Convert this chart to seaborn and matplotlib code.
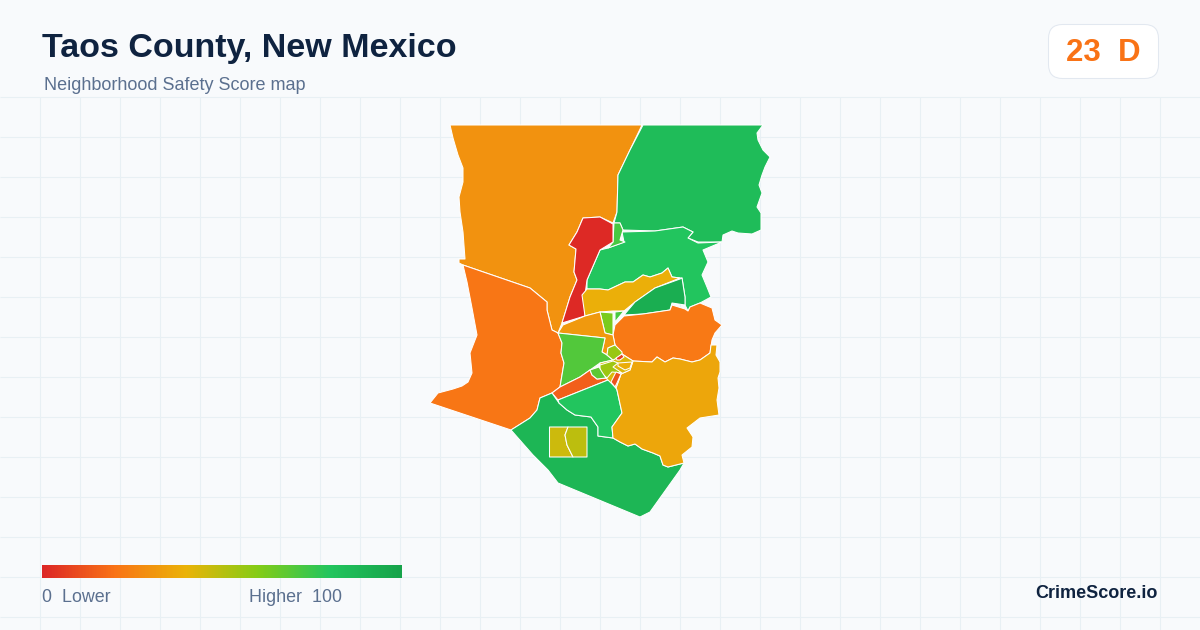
import numpy as np
import matplotlib
matplotlib.use("Agg")
import matplotlib.pyplot as plt
from matplotlib.patches import Polygon, FancyBboxPatch
import seaborn as sns

sns.set_theme(style="white")
plt.rcParams['font.family'] = ['Liberation Sans', 'DejaVu Sans']

TITLE = "Taos County, New Mexico"
SUBTITLE = "Neighborhood Safety Score map"
SCORE = "23  D"
BRAND = "CrimeScore.io"
GRADIENT = ["#dc2626", "#f97316", "#eab308", "#84cc16", "#22c55e", "#16a34a"]

# score of each tract
nw_score = 30
ne_score = 85
red_score = 1
link_score = 72
north_mid_score = 80
ridge_score = 39
dark_score = 93
lime_a_score = 62
lime_b_score = 72
east_score = 22
mid_orange_score = 32
west_score = 21
center_green_score = 70
strip_score = 15
south_mid_score = 80
south_score = 89
southeast_score = 36
town_l_score = 46
town_r_score = 49
spot_a_score = 7
spot_b_score = 12
spot_c_score = 55
spot_d_score = 68
spot_e_score = 38
spot_f_score = 56
center_base_score = 43

# tract outlines, traced in the map's projected plane
nw_shape = [(450,125),(642,125),(630,150),(618,175),(617,212),(613,223),(600,217),(583,218),(577,232),(569,245),(576,249),(574,272),(577,280),(570,297),(562,323),(558,333),(552,330),(547,310),(547,302),(530,288),(463,265),(459,263),(459,259),(465,259),(463,232),(460,212),(459,197),(463,182),(463,168),(458,155),(453,138)]
ne_shape = [(643,125),(763,125),(757,133),(758,140),(763,150),(770,157),(765,167),(762,175),(759,185),(762,193),(757,207),(761,213),(761,230),(752,234),(738,233),(732,231),(723,235),(722,242),(698,242),(688,238),(693,232),(683,227),(655,231),(623,230),(620,223),(614,223),(617,212),(618,175),(630,150)]
red_shape = [(583,218),(600,217),(613,224),(613,242),(600,250),(587,280),(585,295),(585,316),(562,323),(570,297),(577,280),(574,272),(576,249),(569,245),(577,232)]
link_shape = [(614,223),(620,223),(623,230),(620,240),(625,242),(608,248),(613,242)]
north_mid_shape = [(587,280),(600,250),(608,248),(624,242),(622,232),(655,231),(683,227),(693,232),(688,238),(698,243),(722,242),(703,250),(708,262),(702,275),(707,287),(711,297),(700,303),(690,307),(688,311),(685,305),(685,297),(682,278),(680,278),(672,277),(668,268),(662,273),(650,277),(643,275),(633,282),(625,282),(608,290),(600,289),(587,289)]
ridge_shape = [(587,289),(600,289),(608,290),(625,282),(633,282),(643,275),(650,277),(662,273),(668,268),(672,277),(680,278),(655,288),(635,302),(624,311),(613,311),(600,312),(585,316),(582,295)]
dark_shape = [(655,288),(680,279),(682,278),(685,297),(685,305),(672,303),(670,310),(643,314),(624,315),(635,302)]
lime_a_shape = [(600,312),(613,313),(613,323),(613,335),(605,333)]
lime_b_shape = [(615,312),(624,311),(615,322)]
east_shape = [(615,325),(624,316),(643,314),(670,310),(672,305),(685,309),(688,311),(690,307),(700,303),(712,308),(715,320),(722,325),(715,333),(712,340),(710,353),(700,360),(692,362),(680,359),(673,358),(665,362),(657,357),(652,362),(633,361),(622,354),(615,345),(613,335)]
mid_orange_shape = [(563,325),(585,316),(600,312),(605,333),(613,335),(615,345),(608,348),(607,355),(602,352),(605,338),(558,333)]
west_shape = [(463,265),(530,288),(547,302),(547,310),(552,330),(558,333),(562,343),(561,353),(564,363),(562,375),(560,387),(552,393),(540,398),(537,410),(530,418),(511,430),(430,403),(438,393),(453,389),(462,386),(468,382),(472,373),(470,353),(477,335),(472,308),(467,282)]
center_green_shape = [(558,333),(605,338),(602,352),(607,355),(613,360),(600,363),(590,370),(580,377),(560,387),(562,375),(564,363),(561,353),(562,343)]
strip_shape = [(552,393),(560,387),(580,377),(590,370),(592,375),(597,379),(606,378),(608,380),(558,400)]
south_mid_shape = [(558,400),(608,380),(612,382),(616,388),(617,390),(622,413),(612,427),(613,438),(598,436),(598,427),(591,417),(575,415),(567,410),(559,403)]
south_shape = [(511,430),(530,418),(537,410),(540,398),(552,393),(559,403),(567,410),(575,415),(591,417),(598,427),(598,436),(613,438),(620,442),(628,446),(635,444),(642,449),(653,453),(660,456),(663,465),(668,467),(684,463),(680,470),(650,512),(640,517),(558,483),(548,470),(533,455)]
southeast_shape = [(633,361),(652,362),(657,357),(665,362),(673,358),(680,359),(692,362),(700,360),(710,353),(711,345),(717,345),(716,355),(720,362),(720,372),(718,378),(719,388),(717,400),(719,415),(700,418),(687,428),(693,437),(692,447),(682,455),(684,463),(668,467),(663,465),(660,456),(653,453),(642,449),(635,444),(628,446),(620,442),(613,438),(612,427),(622,413),(617,390),(616,388),(621,374),(630,370)]
town_l_shape = [(549.5,427),(568,427),(565,435),(567,445),(573,457),(549.5,457)]
town_r_shape = [(568,427),(587,427),(587,457),(573,457),(567,445),(565,435)]
center_base_shape = [(600,363),(613,360),(622,354),(633,361),(630,370),(621,374),(616,388),(608,380),(600,372)]
spot_a_shape = [(616,358),(622,354),(624,357),(620,360),(617,360)]
spot_b_shape = [(611,382),(616,372),(621,374),(617,383),(615,387)]
spot_c_shape = [(600,365),(613,361),(618,363),(613,367),(622,373),(612,372),(607,378),(600,372)]
spot_d_shape = [(590,370),(599,367),(602,372),(606,378),(597,379),(592,375)]
spot_e_shape = [(618,363),(632,362),(630,368),(625,370),(618,366)]
spot_f_shape = [(607,355),(608,348),(615,345),(622,352),(622,354),(617,358),(613,360)]

tracts = [
    (nw_shape, nw_score), (ne_shape, ne_score), (north_mid_shape, north_mid_score),
    (link_shape, link_score), (red_shape, red_score), (ridge_shape, ridge_score),
    (dark_shape, dark_score), (lime_a_shape, lime_a_score), (lime_b_shape, lime_b_score),
    (east_shape, east_score), (west_shape, west_score), (mid_orange_shape, mid_orange_score),
    (center_green_shape, center_green_score), (strip_shape, strip_score),
    (south_shape, south_score), (south_mid_shape, south_mid_score),
    (southeast_shape, southeast_score), (town_l_shape, town_l_score), (town_r_shape, town_r_score),
    (center_base_shape, center_base_score),
    (spot_f_shape, spot_f_score), (spot_c_shape, spot_c_score), (spot_d_shape, spot_d_score),
    (spot_e_shape, spot_e_score), (spot_a_shape, spot_a_score), (spot_b_shape, spot_b_score),
]

cmap = sns.blend_palette(GRADIENT, n_colors=256, as_cmap=True)

BG = "#f8fafc"
GRID = "#e8f0f4"
INK = "#0f2340"
MUTED = "#5b708f"
ORANGE = "#f97316"

fig = plt.figure(figsize=(12, 6.3), dpi=100, facecolor=BG)
ax = fig.add_axes([0, 0, 1, 1], facecolor=BG)
ax.set_xlim(0, 1200)
ax.set_ylim(630, 0)
ax.axis("off")

ax.vlines(np.arange(40.2, 1200, 40), 96.5, 630, color=GRID, lw=0.75, zorder=1)
ax.hlines(np.arange(96.5, 630, 40), 0, 1200, color=GRID, lw=0.75, zorder=1)

for shape, score in tracts:
    ax.add_patch(Polygon(shape, closed=True, facecolor=cmap(score / 100),
                         edgecolor="white", lw=0.75, joinstyle="round", zorder=3))

ax.text(42, 49, TITLE, fontsize=24.5, fontweight="bold", color=INK, va="center", ha="left")
ax.text(44, 85, SUBTITLE, fontsize=12.95, color=MUTED, va="center", ha="left")

ax.add_patch(FancyBboxPatch((1048.5, 24.5), 110, 54, boxstyle="round,pad=0,rounding_size=14",
                            facecolor="white", edgecolor="#e2e8f0", lw=0.75, zorder=4))
ax.text(1103, 53, SCORE, fontsize=22.5, fontweight="bold", color=ORANGE, va="center", ha="center", zorder=5)

cax = fig.add_axes([42 / 1200, 1 - 578 / 630, 360 / 1200, 13 / 630])
sns.heatmap(np.linspace(0, 1, 360).reshape(1, -1), ax=cax, cmap=cmap, vmin=0, vmax=1,
            cbar=False, xticklabels=False, yticklabels=False)

ax.text(42, 598, "0  Lower", fontsize=12.9, color=MUTED, va="center", ha="left")
ax.text(249, 598, "Higher  100", fontsize=12.9, color=MUTED, va="center", ha="left")
ax.text(1158, 594, BRAND, fontsize=13, fontweight="bold", color=INK, va="center", ha="right")

fig.savefig("out.png", dpi=100, facecolor=BG)
